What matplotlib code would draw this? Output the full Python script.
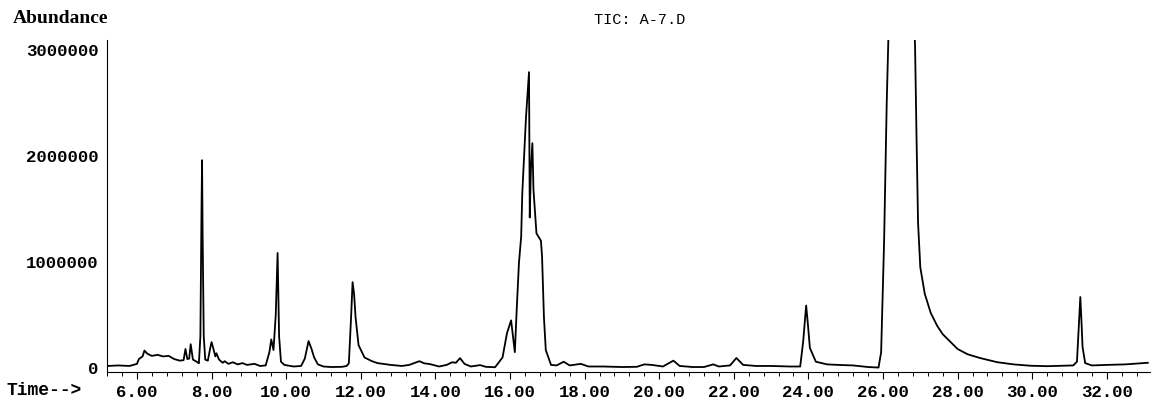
import matplotlib
matplotlib.use('Agg')
import matplotlib.pyplot as plt
from matplotlib.ticker import MultipleLocator

# retention time (min) and abundance
time_min = [5.22, 5.5, 5.8, 6.0, 6.05, 6.15, 6.2, 6.28, 6.4, 6.55, 6.7, 6.85, 7.0, 7.15,
            7.25, 7.3, 7.35, 7.4, 7.44, 7.5, 7.6, 7.66, 7.7, 7.73, 7.745, 7.76, 7.79, 7.83,
            7.9, 7.97, 8.0, 8.05, 8.1, 8.13, 8.2, 8.3, 8.35, 8.45, 8.57, 8.7, 8.83, 8.95,
            9.15, 9.3, 9.45, 9.55, 9.6, 9.66, 9.72, 9.77, 9.81, 9.86, 9.95, 10.2, 10.4,
            10.5, 10.6, 10.68, 10.75, 10.85, 11.0, 11.2, 11.5, 11.62, 11.68, 11.74, 11.78,
            11.82, 11.86, 11.94, 12.1, 12.3, 12.45, 12.8, 13.1, 13.3, 13.57, 13.7, 13.85,
            14.1, 14.3, 14.45, 14.55, 14.66, 14.78, 14.95, 15.2, 15.35, 15.6, 15.8, 15.92,
            16.03, 16.13, 16.18, 16.24, 16.3, 16.33, 16.43, 16.51, 16.53, 16.56, 16.6,
            16.63, 16.71, 16.83, 16.86, 16.91, 16.96, 17.1, 17.25, 17.44, 17.6, 17.9, 18.1,
            18.5, 19.0, 19.4, 19.6, 19.8, 20.1, 20.38, 20.55, 20.9, 21.2, 21.45, 21.6, 21.9,
            22.07, 22.25, 22.6, 23.0, 23.5, 23.78, 23.86, 23.94, 23.99, 24.04, 24.2, 24.5,
            24.8, 25.2, 25.6, 25.88, 25.95, 26.03, 26.1, 26.14, 26.18, 26.8, 26.86, 26.9,
            26.94, 27.0, 27.12, 27.28, 27.45, 27.6, 27.8, 28.0, 28.27, 28.6, 29.07, 29.5,
            29.96, 30.4, 30.8, 31.1, 31.2, 31.25, 31.29, 31.32, 31.35, 31.42, 31.6, 32.0,
            32.5, 32.9, 33.1]
abundance = [20000, 25000, 20000, 40000, 85000, 110000, 165000, 135000, 115000, 125000,
             110000, 115000, 85000, 70000, 75000, 180000, 85000, 90000, 225000, 80000,
             60000, 45000, 300000, 1500000, 1960000, 1250000, 300000, 80000, 70000, 200000,
             245000, 180000, 110000, 140000, 80000, 50000, 65000, 40000, 55000, 35000,
             47000, 30000, 40000, 20000, 25000, 150000, 270000, 170000, 500000, 1085000,
             300000, 60000, 30000, 15000, 20000, 90000, 255000, 180000, 100000, 35000,
             15000, 10000, 12000, 20000, 45000, 480000, 810000, 700000, 480000, 217000,
             100000, 65000, 47000, 30000, 20000, 30000, 65000, 45000, 38000, 15000, 30000,
             55000, 50000, 94000, 40000, 15000, 28000, 12000, 8000, 100000, 330000, 450000,
             150000, 550000, 990000, 1240000, 1650000, 2370000, 2790000, 1420000, 1870000,
             2120000, 1680000, 1270000, 1200000, 1050000, 480000, 170000, 30000, 25000,
             60000, 25000, 40000, 15000, 15000, 10000, 12000, 35000, 30000, 15000, 70000,
             20000, 10000, 10000, 35000, 15000, 25000, 95000, 30000, 20000, 20000, 15000,
             15000, 250000, 590000, 400000, 190000, 60000, 35000, 30000, 25000, 10000, 5000,
             150000, 1200000, 2500000, 3050000, 3600000, 3600000, 3030000, 2150000, 1370000,
             950000, 700000, 520000, 400000, 320000, 250000, 180000, 130000, 95000, 55000,
             35000, 22000, 18000, 22000, 25000, 60000, 400000, 670000, 450000, 200000, 47000,
             25000, 30000, 35000, 45000, 50000]

x_ticks = [6, 8, 10, 12, 14, 16, 18, 20, 22, 24, 26, 28, 30, 32]
y_ticks = [0, 1000000, 2000000, 3000000]

mono = 'Liberation Mono'

fig = plt.figure(figsize=(11.52, 4.2), dpi=100)
ax = fig.add_axes([0.093, 0.114, 0.905, 0.791])

ax.plot(time_min, abundance, color='black', linewidth=1.3)

ax.set_xlim(5.2, 33.15)
ax.set_ylim(-38000, 3094000)

ax.spines['top'].set_visible(False)
ax.spines['right'].set_visible(False)
ax.spines['left'].set_linewidth(0.8)
ax.spines['bottom'].set_linewidth(0.8)

ax.set_xticks(x_ticks)
ax.set_xticklabels(['%.2f' % t for t in x_ticks], fontfamily=mono, fontweight='bold', fontsize=12.5)
ax.xaxis.set_minor_locator(MultipleLocator(0.4))
ax.tick_params(axis='x', which='major', direction='out', length=5, width=0.8, pad=4)
ax.tick_params(axis='x', which='minor', direction='out', length=3, width=0.7)

ax.set_yticks(y_ticks)
ax.set_yticklabels([str(v) for v in y_ticks], fontfamily=mono, fontweight='bold', fontsize=12.5)
ax.tick_params(axis='y', length=0, pad=6)

fig.text(0.011, 0.957, 'Abundance', fontfamily='Liberation Serif', fontweight='bold',
         fontsize=14, ha='left', va='center')
fig.text(0.555, 0.952, 'TIC: A-7.D', fontfamily=mono, fontsize=11, ha='center', va='center')
fig.text(0.006, 0.071, 'Time-->', fontfamily=mono, fontweight='bold', fontsize=13,
         ha='left', va='center')

plt.savefig('out.png', dpi=100)
